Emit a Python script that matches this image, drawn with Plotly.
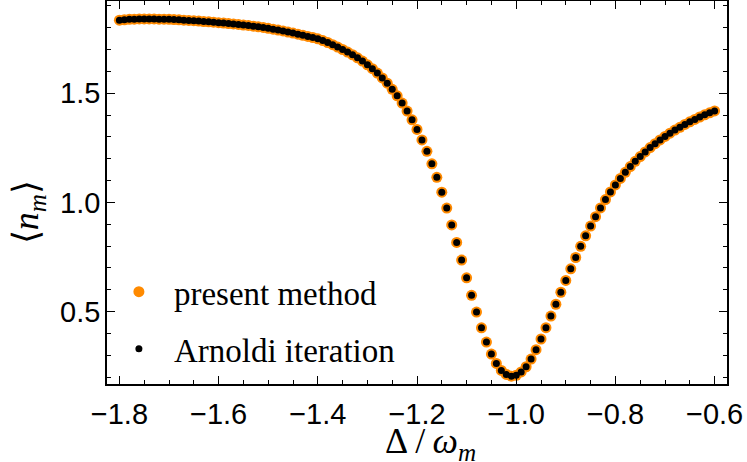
import plotly.graph_objects as go

# detuning Delta/omega_m, sampled every 0.01
detuning = [
    -1.80, -1.79, -1.78, -1.77, -1.76, -1.75, -1.74, -1.73, -1.72, -1.71,
    -1.70, -1.69, -1.68, -1.67, -1.66, -1.65, -1.64, -1.63, -1.62, -1.61,
    -1.60, -1.59, -1.58, -1.57, -1.56, -1.55, -1.54, -1.53, -1.52, -1.51,
    -1.50, -1.49, -1.48, -1.47, -1.46, -1.45, -1.44, -1.43, -1.42, -1.41,
    -1.40, -1.39, -1.38, -1.37, -1.36, -1.35, -1.34, -1.33, -1.32, -1.31,
    -1.30, -1.29, -1.28, -1.27, -1.26, -1.25, -1.24, -1.23, -1.22, -1.21,
    -1.20, -1.19, -1.18, -1.17, -1.16, -1.15, -1.14, -1.13, -1.12, -1.11,
    -1.10, -1.09, -1.08, -1.07, -1.06, -1.05, -1.04, -1.03, -1.02, -1.01,
    -1.00, -0.99, -0.98, -0.97, -0.96, -0.95, -0.94, -0.93, -0.92, -0.91,
    -0.90, -0.89, -0.88, -0.87, -0.86, -0.85, -0.84, -0.83, -0.82, -0.81,
    -0.80, -0.79, -0.78, -0.77, -0.76, -0.75, -0.74, -0.73, -0.72, -0.71,
    -0.70, -0.69, -0.68, -0.67, -0.66, -0.65, -0.64, -0.63, -0.62, -0.61,
    -0.60,
]

# mean phonon number <n_m>
n_present = [
    1.834, 1.836, 1.838, 1.839, 1.840, 1.840, 1.840, 1.840, 1.839, 1.839,
    1.838, 1.837, 1.836, 1.834, 1.833, 1.832, 1.830, 1.828, 1.827, 1.825,
    1.823, 1.821, 1.819, 1.817, 1.815, 1.812, 1.810, 1.807, 1.804, 1.801,
    1.797, 1.793, 1.789, 1.785, 1.780, 1.775, 1.770, 1.765, 1.760, 1.755,
    1.749, 1.741, 1.732, 1.722, 1.711, 1.700, 1.688, 1.676, 1.662, 1.647,
    1.630, 1.612, 1.592, 1.570, 1.546, 1.518, 1.488, 1.455, 1.418, 1.378,
    1.334, 1.286, 1.234, 1.177, 1.115, 1.047, 0.974, 0.897, 0.817, 0.736,
    0.655, 0.575, 0.498, 0.426, 0.361, 0.306, 0.263, 0.231, 0.213, 0.205,
    0.209, 0.224, 0.248, 0.283, 0.326, 0.375, 0.427, 0.480, 0.534, 0.589,
    0.643, 0.696, 0.748, 0.799, 0.847, 0.892, 0.935, 0.975, 1.013, 1.048,
    1.080, 1.110, 1.138, 1.164, 1.188, 1.210, 1.231, 1.251, 1.269, 1.286,
    1.302, 1.317, 1.331, 1.344, 1.357, 1.369, 1.380, 1.391, 1.401, 1.410,
    1.419,
]

# Arnoldi result agrees with the present method within the marker size
n_arnoldi = list(n_present)

x_ticks = [-1.8, -1.6, -1.4, -1.2, -1.0, -0.8, -0.6]
y_ticks = [0.5, 1.0, 1.5]

fig = go.Figure()

fig.add_trace(go.Scatter(
    x=detuning, y=n_present, mode="markers", name="present method",
    marker=dict(color="#FF8A00", size=11), legend="legend",
))
fig.add_trace(go.Scatter(
    x=detuning, y=n_arnoldi, mode="markers", name="Arnoldi iteration",
    marker=dict(color="black", size=7), legend="legend2",
))

axis_style = dict(
    showline=True, linecolor="black", linewidth=1.5, mirror="allticks",
    ticks="inside", ticklen=8, tickwidth=1.2, tickcolor="black",
    showgrid=False, zeroline=False, tickformat=".1f",
    tickfont=dict(family="Liberation Sans, Arial, sans-serif", size=29, color="black"),
)

fig.update_xaxes(
    range=[-1.825, -0.575], tickmode="array", tickvals=x_ticks,
    minor=dict(tickmode="linear", tick0=-1.8, dtick=0.05, ticks="inside",
               ticklen=4, tickwidth=1, tickcolor="black"),
    ticklabelstandoff=3,
    **axis_style,
)
fig.update_yaxes(
    range=[0.169, 1.922], tickmode="array", tickvals=y_ticks,
    minor=dict(tickmode="linear", tick0=0.5, dtick=0.1, ticks="inside",
               ticklen=4, tickwidth=1, tickcolor="black"),
    ticklabelstandoff=-1,
    **axis_style,
)

legend_style = dict(
    xanchor="left", yanchor="middle", bgcolor="rgba(0,0,0,0)",
    itemwidth=60, font=dict(family="Liberation Serif, Times New Roman, serif", size=33, color="black"),
)

title_font = dict(family="Liberation Serif, Times New Roman, serif", size=36, color="black")

fig.update_layout(
    width=747, height=462,
    margin=dict(l=107, r=20, t=1, b=78, autoexpand=False),
    paper_bgcolor="white", plot_bgcolor="white",
    showlegend=True,
    legend=dict(x=-0.005, y=0.241, **legend_style),
    legend2=dict(x=-0.005, y=0.092, **legend_style),
    annotations=[
        dict(text="Δ\u2009/\u2009<i>ω</i><sub><i>m</i></sub>", xref="paper", yref="paper",
             x=0.5215, y=-0.155, xanchor="center", yanchor="middle",
             showarrow=False, font=title_font),
        dict(text="⟨<i>n</i><sub><i>m</i></sub>⟩", xref="paper", yref="paper",
             x=-0.127, y=0.449, xanchor="center", yanchor="middle",
             textangle=-90, showarrow=False, font=title_font),
    ],
)

# page body has a default 8px margin; drop it so the figure fills the window
fig.write_html(
    "out.html",
    config={"displayModeBar": False},
    post_script="document.body.style.margin='0';",
)
